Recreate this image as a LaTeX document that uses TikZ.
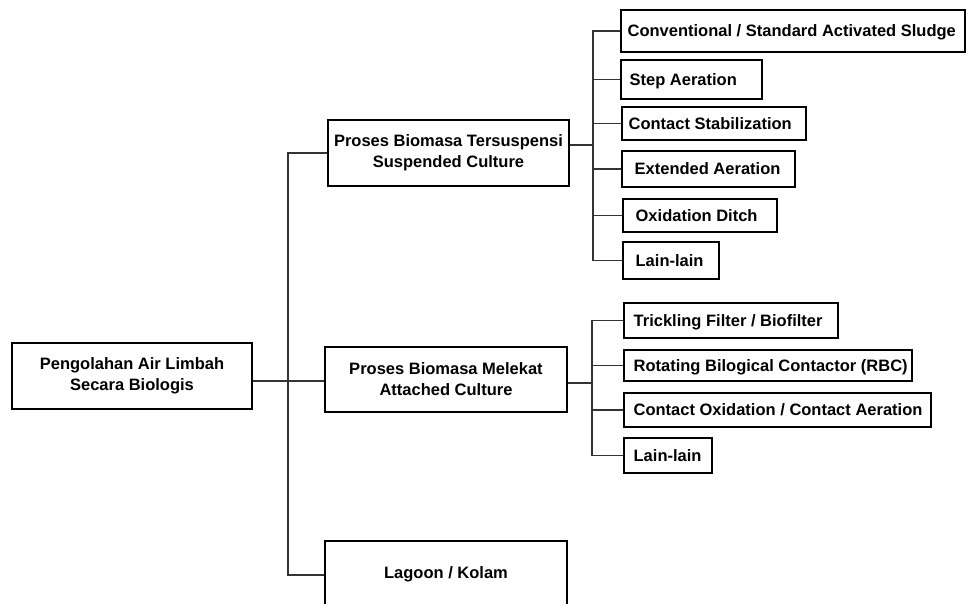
\documentclass[tikz,border=0pt]{standalone}
\usepackage{fontspec}
\setmainfont{Liberation Sans}
\begin{document}
\begin{tikzpicture}[x=1pt,y=-1pt,
  font=\bfseries\fontsize{16.5}{21}\selectfont,
  box/.style={draw=black, line width=1.1pt, inner sep=0pt, align=center},
  sub/.style={draw=black, line width=1.1pt, inner sep=0pt},
  lab/.style={anchor=west, inner sep=0pt, text height=11.8pt, text depth=0pt},
  conn/.style={draw=black!80, line width=1.2pt}]
\useasboundingbox (0,0) rectangle (969,604);
% main boxes
\node[box, minimum width=240pt, minimum height=66pt] (root) at (132,376) {Pengolahan Air Limbah\\Secara Biologis};
\node[box, minimum width=241pt, minimum height=66pt] (susp) at (448.5,153) {Proses Biomasa Tersuspensi\\Suspended Culture};
\node[box, minimum width=242pt, minimum height=65pt] (att) at (446,379.5) {Proses Biomasa Melekat\\Attached Culture};
\node[box, minimum width=242pt, minimum height=66pt] (lag) at (446,574) {Lagoon / Kolam};
% suspended sub-items
\node[sub, minimum width=344pt, minimum height=42pt, label={[lab,xshift=7pt]west:Conventional / Standard Activated Sludge}] (c1) at (793,31) {};
\node[sub, minimum width=141pt, minimum height=39pt, label={[lab,xshift=9pt]west:Step Aeration}] (c2) at (691.5,79.5) {};
\node[sub, minimum width=184pt, minimum height=33pt, label={[lab,xshift=7pt]west:Contact Stabilization}] (c3) at (714,123.5) {};
\node[sub, minimum width=173pt, minimum height=36pt, label={[lab,xshift=13pt]west:Extended Aeration}] (c4) at (708.5,169) {};
\node[sub, minimum width=154pt, minimum height=33pt, label={[lab,xshift=13pt]west:Oxidation Ditch}] (c5) at (700,215.5) {};
\node[sub, minimum width=96pt, minimum height=37pt, label={[lab,xshift=13pt]west:Lain-lain}] (c6) at (671,260.5) {};
% attached sub-items
\node[sub, minimum width=214pt, minimum height=35pt, label={[lab,xshift=10pt]west:Trickling Filter / Biofilter}] (a1) at (731,320.5) {};
\node[sub, minimum width=288pt, minimum height=31pt, label={[lab,xshift=10pt]west:Rotating Bilogical Contactor (RBC)}] (a2) at (768,365.5) {};
\node[sub, minimum width=307pt, minimum height=34pt, label={[lab,xshift=10pt]west:Contact Oxidation / Contact Aeration}] (a3) at (777.5,410) {};
\node[sub, minimum width=88pt, minimum height=35pt, label={[lab,xshift=10pt]west:Lain-lain}] (a4) at (668,455.5) {};
% trunk coordinates
\coordinate (tA) at (288,381);
\coordinate (tL) at (288,575);
\coordinate (sT) at (593,145);
\coordinate (aT) at (592,383);
% main connectors
\draw[conn] ([yshift=-5pt]root.east) -- (tA) -- (att.west |- tA);
\draw[conn] (susp.west) -| (tL) -- (lag.west |- tL);
% suspended branch
\draw[conn] ([yshift=8pt]susp.east) -- (sT);
\draw[conn] (c1.west) -| (sT |- c6.west) -- (c6.west);
\draw[conn] (sT |- c2.west) -- (c2.west);
\draw[conn] (sT |- c3.west) -- (c3.west);
\draw[conn] (sT |- c4.west) -- (c4.west);
\draw[conn] (sT |- c5.west) -- (c5.west);
% attached branch
\draw[conn] ([yshift=-3.5pt]att.east) -- (aT);
\draw[conn] (a1.west) -| (aT |- a4.west) -- (a4.west);
\draw[conn] (aT |- a2.west) -- (a2.west);
\draw[conn] (aT |- a3.west) -- (a3.west);
\end{tikzpicture}
\end{document}
